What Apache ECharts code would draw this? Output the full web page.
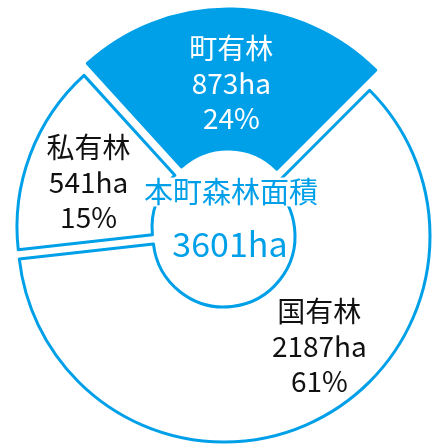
<!DOCTYPE html>
<html>
<head>
<meta charset="utf-8">
<script src="https://cdn.jsdelivr.net/npm/echarts@6/dist/echarts.min.js"></script>
<style>
html,body{margin:0;padding:0;background:#fff;}
#chart{width:433px;height:446px;}
</style>
</head>
<body>
<div id="chart"></div>
<script>
// ---- data ----
const categories = ['町有林', '国有林', '私有林'];
const areas = [873, 2187, 541];
const unit = 'ha';
const centerTitle = '本町森林面積';

// ---- style / layout ----
const BLUE = '#00a0e9';
const FONT = '"Noto Sans CJK JP", "Noto Sans", sans-serif';
const total = areas.reduce((a, b) => a + b, 0);

// per-slice layout: pie centre (exploded), radii, fill, label colour, label shift
const sliceLayout = [
  { center: [228, 218], radius: [69, 209], fill: BLUE, text: '#ffffff', dx: 0, dy: 7 },
  { center: [224, 236], radius: [71, 206], fill: '#ffffff', text: '#111111', dx: 34, dy: -17 },
  { center: [222, 227], radius: [70, 205], fill: '#ffffff', text: '#111111', dx: -2, dy: 5 }
];

function makeSeries(idx) {
  const L = sliceLayout[idx];
  return {
    type: 'pie',
    center: L.center,
    radius: L.radius,
    startAngle: 132.3,
    clockwise: true,
    avoidLabelOverlap: false,
    percentPrecision: 0,
    silent: true,
    emphasis: { disabled: true, scale: false },
    labelLayout: { dx: L.dx, dy: L.dy },
    data: categories.map((name, i) => {
      const shown = i === idx;
      return {
        name: name,
        value: areas[i],
        itemStyle: shown
          ? { color: L.fill, borderColor: BLUE, borderWidth: 3 }
          : { color: 'rgba(0,0,0,0)', borderWidth: 0 },
        label: shown
          ? {
              show: true,
              position: 'inside',
              formatter: '{b}\n{c}' + unit + '\n{d}%',
              color: L.text,
              fontFamily: FONT,
              fontSize: 28,
              lineHeight: 35,
              align: 'center'
            }
          : { show: false },
        labelLine: { show: false }
      };
    })
  };
}

const chart = echarts.init(document.getElementById('chart'), null, { renderer: 'canvas' });
chart.setOption({
  animation: false,
  backgroundColor: '#ffffff',
  series: [makeSeries(1), makeSeries(2), makeSeries(0)],
  graphic: [
    {
      type: 'text',
      z: 100,
      x: 231, y: 192,
      style: {
        text: centerTitle,
        fill: BLUE,
        font: '29px ' + FONT,
        align: 'center',
        verticalAlign: 'middle',
        backgroundColor: '#ffffff',
        padding: [0, 0]
      }
    },
    {
      type: 'text',
      z: 100,
      x: 230, y: 244,
      style: {
        text: total + unit,
        fill: BLUE,
        font: '34px ' + FONT,
        align: 'center',
        verticalAlign: 'middle'
      }
    }
  ]
});
</script>
</body>
</html>
